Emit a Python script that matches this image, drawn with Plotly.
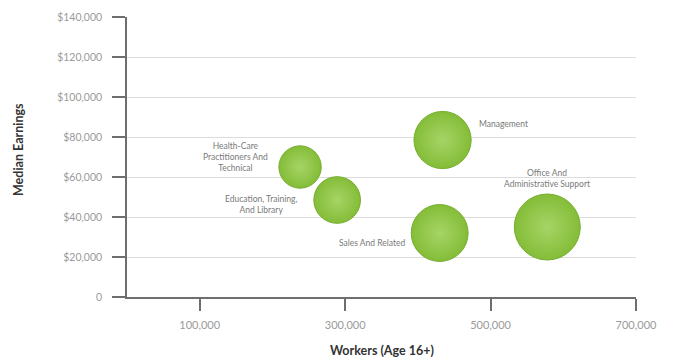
import plotly.graph_objects as go

# Occupations: workers aged 16+ versus median earnings
occupations = [
    "Health-Care<br>Practitioners And<br>Technical",
    "Education, Training,<br>And Library",
    "Management",
    "Sales And Related",
    "Office And<br>Administrative Support",
]
workers = [238000, 289000, 434000, 430000, 578000]
median_earnings = [65000, 48500, 78500, 32000, 35000]

x_ticks = [100000, 300000, 500000, 700000]
y_ticks = [0, 20000, 40000, 60000, 80000, 100000, 120000, 140000]
y_tick_text = ["0"] + [f"${v:,}" for v in y_ticks[1:]]

# label placement relative to each bubble (pixels)
label_style = [
    dict(xanchor="right", yanchor="middle", xshift=-30, yshift=10),
    dict(xanchor="right", yanchor="middle", xshift=-38, yshift=-4),
    dict(xanchor="left", yanchor="middle", xshift=34, yshift=16),
    dict(xanchor="right", yanchor="middle", xshift=-33, yshift=-10),
    dict(xanchor="center", yanchor="middle", xshift=0, yshift=49),
]

max_diameter = 66
sizeref = 2.0 * max(workers) / (max_diameter ** 2)

fig = go.Figure(
    go.Scatter(
        x=workers,
        y=median_earnings,
        mode="markers",
        marker=dict(
            size=workers,
            sizemode="area",
            sizeref=sizeref,
            color="#84bd38",
            gradient=dict(type="radial", color="#a6d466"),
            line=dict(color="#76ad2e", width=1),
            opacity=1,
        ),
        cliponaxis=False,
        hoverinfo="skip",
    )
)

for name, xv, yv, st in zip(occupations, workers, median_earnings, label_style):
    fig.add_annotation(
        x=xv, y=yv, text=name, showarrow=False, align="center",
        font=dict(family="Lato, Open Sans, sans-serif", size=8.5, color="#7a7a7a"),
        **st,
    )

# axis titles placed in the margins
title_font = dict(family="Lato, Open Sans, sans-serif", size=12.5, color="#333333")
fig.add_annotation(
    text="<b>Workers (Age 16+)</b>", xref="paper", yref="paper",
    x=0.5, y=0, yshift=-53, xanchor="center", yanchor="middle",
    showarrow=False, font=title_font,
)
fig.add_annotation(
    text="<b>Median Earnings</b>", xref="paper", yref="paper",
    x=0, y=0.5, xshift=-109, yshift=7, xanchor="center", yanchor="middle",
    textangle=-90, showarrow=False, font=title_font,
)

fig.update_layout(
    width=680,
    height=360,
    margin=dict(l=127, r=44, t=17, b=63),
    paper_bgcolor="white",
    plot_bgcolor="white",
    showlegend=False,
    font=dict(family="Lato, Open Sans, sans-serif"),
)

fig.update_xaxes(
    range=[0, 700000],
    tickvals=x_ticks,
    ticktext=[f"{v:,}" for v in x_ticks],
    ticks="outside",
    ticklen=12,
    tickwidth=1.5,
    tickcolor="#6e6e6e",
    showline=True,
    linecolor="#6e6e6e",
    linewidth=1.5,
    showgrid=False,
    zeroline=False,
    automargin=False,
    ticklabelstandoff=5,
    tickfont=dict(size=11, color="#9a9a9a"),
)

fig.update_yaxes(
    range=[0, 140000],
    tickvals=y_ticks,
    ticktext=y_tick_text,
    ticks="outside",
    ticklen=13,
    tickwidth=1.5,
    tickcolor="#6e6e6e",
    showline=True,
    linecolor="#6e6e6e",
    linewidth=1.5,
    showgrid=True,
    gridcolor="#dcdcdc",
    gridwidth=1,
    zeroline=False,
    automargin=False,
    tickfont=dict(size=10.5, color="#9a9a9a"),
    ticklabelstandoff=8,
)

fig.write_html("out.html")
